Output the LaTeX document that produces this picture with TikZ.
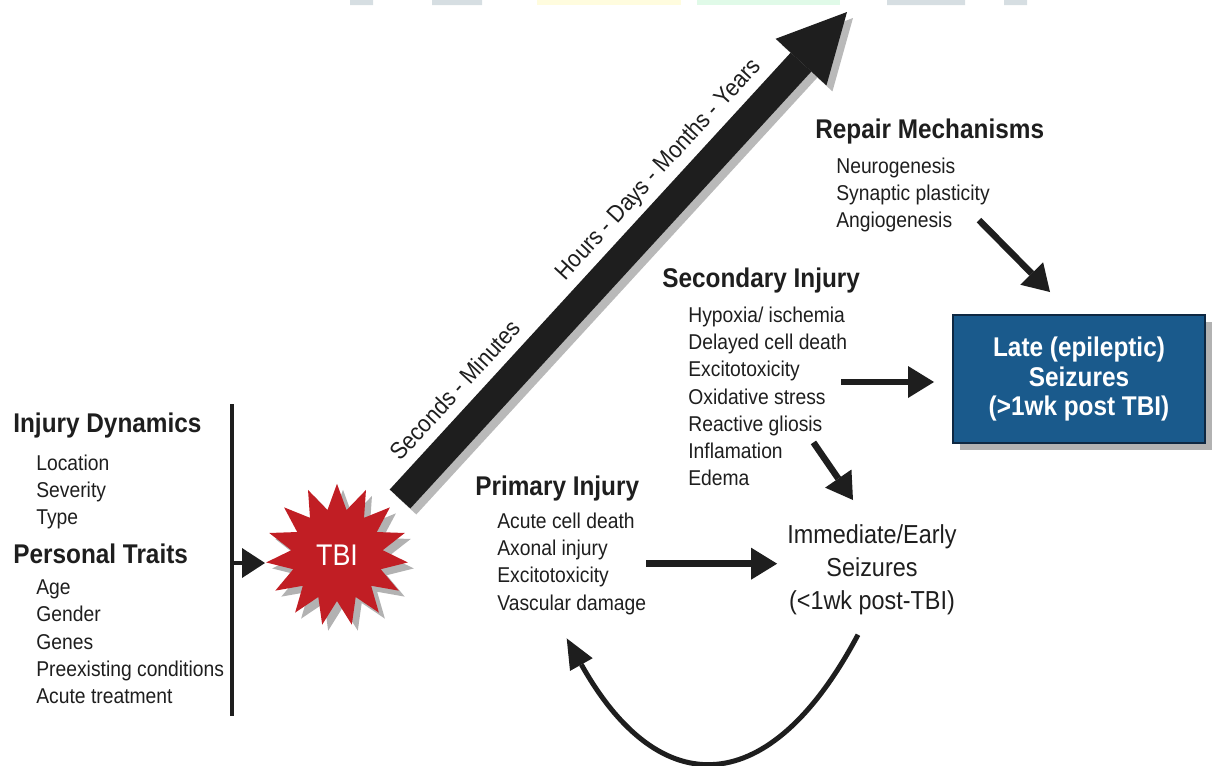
\documentclass[tikz,border=0pt]{standalone}
\usepackage{fontspec}
\setmainfont{Liberation Sans}[FakeStretch=0.9]
\usetikzlibrary{arrows.meta,calc,positioning,shapes.geometric,shadows}
\definecolor{ink}{RGB}{30,30,30}
\definecolor{tbired}{RGB}{193,30,36}
\definecolor{lateblue}{RGB}{26,90,140}
\definecolor{lateline}{RGB}{14,40,66}
\definecolor{wmgray}{RGB}{214,222,226}
\definecolor{wmyellow}{RGB}{255,252,222}
\definecolor{wmgreen}{RGB}{224,250,232}
\tikzset{flow/.style={-{Triangle[length=0.52cm, width=0.64cm, line width=0pt]}, line width=0.13cm, draw=ink},
  timeline/.style={-{Triangle[length=1.36cm, width=1.38cm, line width=0pt]}, line width=0.56cm},
  hd/.style={anchor=base west, inner sep=0pt, font=\bfseries\fontsize{15.4}{18}\selectfont},
  lst/.style={anchor=north west, inner sep=0pt, align=left, font=\fontsize{12.2}{15.5}\selectfont},
  tlabel/.style={rotate=47.45, inner sep=0pt, font=\fontsize{13.7}{16}\selectfont}}

\begin{document}
\begin{tikzpicture}[x=0.02cm, y=-0.02cm, text=ink]
  \useasboundingbox (0,0) rectangle (1214,765);
  \fill[wmgray] (350,0) rectangle (373,5) (432,0) rectangle (482,5) (887,0) rectangle (965,5) (1004,0) rectangle (1027,5);
  \fill[wmyellow] (537,0) rectangle (681,5);
  \fill[wmgreen] (697,0) rectangle (840,5);

  \node[hd] (dynhead) at (13,432) {Injury Dynamics};
  \node[lst] (dynlist) at (36,454.5) {Location\\Severity\\Type};
  \node[hd] (traithead) at (13,563) {Personal Traits};
  \node[lst] (traitlist) at (36,579.5) {Age\\Gender\\Genes\\Preexisting conditions\\Acute treatment};
  \coordinate (bartop) at (232,404);
  \coordinate (barbot) at (232,716);
  \coordinate (barmid) at (232,563);
  \draw[ink, line width=0.065cm] (bartop) -- (barbot);

  \node[star, star points=15, star point ratio=1.55, minimum size=2.85cm, inner sep=0pt,
    fill=tbired, text=white, font=\fontsize{17}{20}\selectfont,
    general shadow={fill=gray!60, shadow xshift=0.12cm, shadow yshift=-0.12cm}] (tbi) at (337,555) {TBI};
  \draw[flow, -{Triangle[length=0.46cm, width=0.6cm, line width=0pt]}, line width=0.08cm] (barmid) -- ($(tbi)+(-72,8)$);

  \coordinate (tstart) at ($(tbi)+(63,-56)$);
  \coordinate (tend) at (847,12);
  \draw[timeline, gray!55] ($(tstart)+(6,6)$) -- ($(tend)+(6,6)$);
  \draw[timeline, ink] (tstart) -- (tend);
  \node[tlabel] (early) at (455,390) {Seconds - Minutes};
  \node[tlabel] (later) at (659,170) {Hours - Days - Months - Years};

  \node[hd] (primhead) at (475,495) {Primary Injury};
  \node[lst] (primlist) at (497,512.5) {Acute cell death\\Axonal injury\\Excitotoxicity\\Vascular damage};
  \node[hd] (sechead) at (662,287) {Secondary Injury};
  \node[lst] (seclist) at (688,306.5) {Hypoxia/ ischemia\\Delayed cell death\\Excitotoxicity\\Oxidative stress\\Reactive gliosis\\Inflamation\\Edema};
  \node[hd] (rephead) at (815,138) {Repair Mechanisms};
  \node[lst] (replist) at (836,157.5) {Neurogenesis\\Synaptic plasticity\\Angiogenesis};

  \node[align=center, inner sep=0pt, anchor=north, font=\fontsize{14.8}{19}\selectfont] (imm) at (872,524) {Immediate/Early\\Seizures\\(<1wk post-TBI)};
  \node[draw=lateline, line width=0.04cm, fill=lateblue, text=white, align=center,
    font=\bfseries\fontsize{15.4}{17}\selectfont, minimum width=5.04cm, minimum height=2.56cm,
    general shadow={fill=gray!60, shadow xshift=0.14cm, shadow yshift=-0.14cm}] (late) at (1079,379) {Late (epileptic)\\Seizures\\(>1wk post TBI)};

  \draw[flow] (primlist.east) -- ($(primlist.east -| imm.west)+(-10,0)$);
  \draw[flow] ($(seclist.east |- late.west)+(-6,3)$) -- ($(late.west)+(-18,3)$);
  \draw[flow] ($(seclist.east)+(-34,46)$) -- ($(imm.north)+(-19,-24)$);
  \draw[flow] ($(replist.south east)+(-11,-12.5)$) -- ($(late.north)+(-29,-22)$);
  \draw[flow, -{Triangle[length=0.6cm, width=0.52cm, line width=0pt]}, line width=0.1cm]
    ($(imm.south)+(-14,19)$) .. controls +(-88,166) and +(93,166) .. ($(primlist.south)+(-5,23.5)$);
\end{tikzpicture}
\end{document}
